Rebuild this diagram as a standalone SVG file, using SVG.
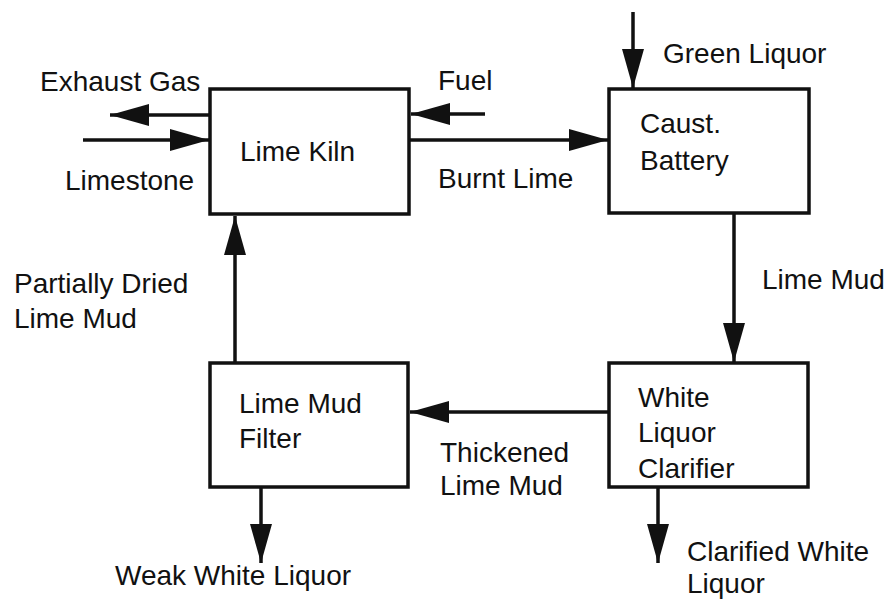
<svg xmlns="http://www.w3.org/2000/svg" width="890" height="600" viewBox="0 0 890 600">
<defs>
<style>
.box{fill:#fff;stroke:#111;stroke-width:3.5}
.ln{fill:none;stroke:#111;stroke-width:3.5}
text{font-family:"Liberation Sans",Arial,Helvetica,sans-serif;font-size:28px;fill:#111}
</style>
<marker id="ah" markerUnits="userSpaceOnUse" markerWidth="40" markerHeight="24" refX="39" refY="12" orient="auto" viewBox="0 0 40 24">
<path d="M0,1 L39,12 L0,23 z" fill="#111"/>
</marker>
</defs>
<rect width="890" height="600" fill="#fff"/>
<g id="connectors">
<line class="ln" x1="210" y1="115" x2="110" y2="115" marker-end="url(#ah)"/>
<line class="ln" x1="83" y1="140" x2="209" y2="140" marker-end="url(#ah)"/>
<line class="ln" x1="485" y1="114" x2="411" y2="114" marker-end="url(#ah)"/>
<line class="ln" x1="410" y1="140" x2="608" y2="140" marker-end="url(#ah)"/>
<line class="ln" x1="633" y1="12" x2="633" y2="88" marker-end="url(#ah)"/>
<line class="ln" x1="734" y1="214" x2="734" y2="362" marker-end="url(#ah)"/>
<line class="ln" x1="609" y1="412" x2="410" y2="412" marker-end="url(#ah)"/>
<line class="ln" x1="235" y1="363" x2="235" y2="216" marker-end="url(#ah)"/>
<line class="ln" x1="261" y1="487" x2="261" y2="563" marker-end="url(#ah)"/>
<line class="ln" x1="658" y1="487" x2="658" y2="563" marker-end="url(#ah)"/>
</g>
<g id="lime-kiln">
<rect class="box" x="210" y="89" width="199" height="125"/>
<text x="240" y="161">Lime Kiln</text>
</g>
<g id="caust-battery">
<rect class="box" x="609" y="89" width="200" height="124"/>
<text x="640" y="133">Caust.</text>
<text x="640" y="170">Battery</text>
</g>
<g id="white-liquor-clarifier">
<rect class="box" x="609" y="363" width="199" height="124"/>
<text x="638" y="407">White</text>
<text x="638" y="442">Liquor</text>
<text x="638" y="478">Clarifier</text>
</g>
<g id="lime-mud-filter">
<rect class="box" x="210" y="363" width="198" height="124"/>
<text x="239" y="413">Lime Mud</text>
<text x="239" y="448">Filter</text>
</g>
<g id="labels">
<text x="40" y="91">Exhaust Gas</text>
<text x="65" y="190">Limestone</text>
<text x="438" y="90">Fuel</text>
<text x="438" y="188">Burnt Lime</text>
<text x="663" y="63">Green Liquor</text>
<text x="762" y="289">Lime Mud</text>
<text x="14" y="293">Partially Dried</text>
<text x="14" y="328">Lime Mud</text>
<text x="440" y="462">Thickened</text>
<text x="440" y="495">Lime Mud</text>
<text x="115" y="585">Weak White Liquor</text>
<text x="687" y="561">Clarified White</text>
<text x="687" y="593">Liquor</text>
</g>
</svg>
